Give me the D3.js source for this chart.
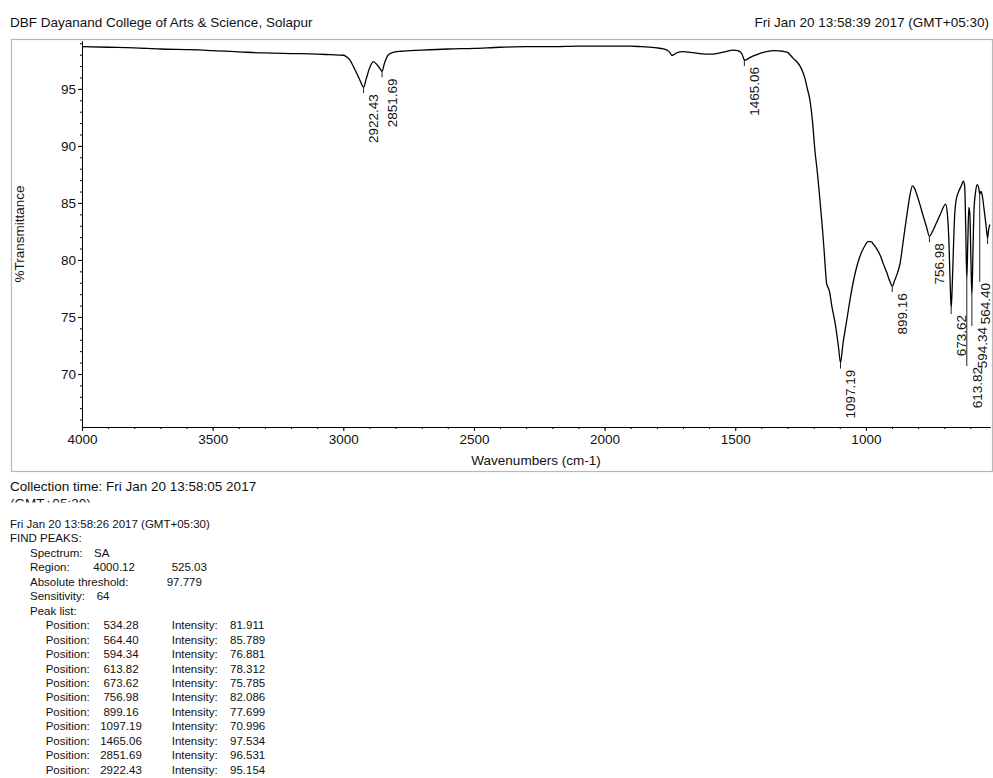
<!DOCTYPE html>
<html><head><meta charset="utf-8">
<script src="https://cdn.jsdelivr.net/npm/d3@7"></script>
<style>
body{margin:0;background:#fff}
svg{display:block}
text{font-family:"Liberation Sans",Arial,sans-serif;fill:#111}
</style>
</head><body>
<svg id="c" width="993" height="778"></svg>
<script>
// ---------- data ----------
const headerLeft = "DBF Dayanand College of Arts & Science, Solapur";
const headerRight = "Fri Jan 20 13:58:39 2017 (GMT+05:30)";
const xLabel = "Wavenumbers (cm-1)";
const yLabel = "%Transmittance";
const xTicks = [4000, 3500, 3000, 2500, 2000, 1500, 1000];
const yTicks = [95, 90, 85, 80, 75, 70];

const wavenumbers = [4000,3900,3800,3700,3600,3550,3500,3400,3300,3200,3100,3050,3000,2990,2975,2960,2945,2935,2922.43,2912,2900,2885,2870,2860,2851.69,2843,2829,2810,2780,2700,2600,2500,2400,2300,2200,2100,2000,1900,1860,1800,1775,1761,1750,1743,1735,1720,1700,1670,1635,1600,1571,1540,1508,1490,1475,1470,1465.06,1458,1451,1435,1418,1400,1380,1350,1317,1300,1290,1279,1265,1252,1240,1233,1225,1214,1205,1195,1185,1176,1168,1160,1155,1150,1145,1140,1130,1118,1105,1097.19,1088,1074,1060,1049,1035,1023,1005,992,980,970,959,945,934,920,908,899.16,890,880,870,855,844,832,822,814,806,795,780,768,756.98,745,729,715,704,695,688,682,677,673.62,670,665,660,655,645,635,627,622,618,613.82,610,606,602,598,594.34,590,586,580,574,568,564.40,560,555,548,540,534.28,530,525];
const transmittance = [98.7,98.65,98.6,98.5,98.45,98.42,98.35,98.25,98.15,98.1,98.05,98.0,97.95,97.85,97.55,96.9,96.2,95.7,95.154,95.9,96.8,97.4,97.1,96.8,96.531,97.2,97.95,98.2,98.3,98.4,98.5,98.55,98.65,98.7,98.7,98.75,98.75,98.75,98.7,98.6,98.5,98.4,98.2,97.95,98.0,98.2,98.27,98.2,98.1,98.05,98.1,98.25,98.4,98.35,98.1,97.8,97.534,97.55,97.65,97.85,98.0,98.15,98.27,98.35,98.3,98.2,98.0,97.7,97.4,97.0,96.4,95.9,95.1,94.0,92.3,89.6,87.5,85.3,83.2,80.9,79.2,77.9,77.6,77.3,75.9,74.5,72.4,70.996,72.6,74.6,76.6,78.0,79.4,80.3,81.2,81.6,81.6,81.35,81.0,80.4,79.7,78.9,78.1,77.699,78.2,78.8,79.6,82.0,83.8,85.6,86.5,86.3,85.8,85.0,83.8,82.9,82.086,82.5,83.3,84.0,84.6,84.9,84.0,81.5,77.6,75.785,77.4,81.0,84.0,85.2,86.0,86.5,86.9,86.5,83.0,78.312,81.5,84.6,84.0,80.0,76.881,81.0,84.5,86.0,86.6,86.3,85.789,86.0,85.7,84.5,83.0,81.911,82.7,83.1];

const peakPositions = [534.28, 564.40, 594.34, 613.82, 673.62, 756.98, 899.16, 1097.19, 1465.06, 2851.69, 2922.43];
const peakIntensities = [81.911, 85.789, 76.881, 78.312, 75.785, 82.086, 77.699, 70.996, 97.534, 96.531, 95.154];

const collectionLine = "Collection time: Fri Jan 20 13:58:05 2017";
const collectionTz = "(GMT+05:30)";
const reportStamp = "Fri Jan 20 13:58:26 2017 (GMT+05:30)";
const spectrumName = "SA";
const regionValues = ["4000.12", "525.03"];
const thresholdValue = "97.779";
const sensitivityValue = "64";

// ---------- drawing ----------
const svg = d3.select("#c");
const x = d3.scaleLinear().domain([4000, 525]).range([82, 990]);
const y = d3.scaleLinear().domain([65.35, 99.2]).range([427, 41]);

svg.append("text").attr("x", 10).attr("y", 27).attr("font-size", "13.5px").text(headerLeft);
svg.append("text").attr("x", 989).attr("y", 27).attr("text-anchor", "end").attr("font-size", "13.5px").text(headerRight);

svg.append("rect").attr("x", 11.5).attr("y", 39.5).attr("width", 981).attr("height", 432)
  .attr("fill", "none").attr("stroke", "#b8b8b8").attr("stroke-width", 1.2);

function styleAxis(g) {
  g.selectAll("path,line").attr("stroke", "#000");
  g.selectAll("text").attr("font-size", "13.5px").attr("fill", "#111")
    .attr("font-family", "Liberation Sans, Arial, sans-serif");
  g.attr("font-family", null).attr("font-size", null);
}

// minor x ticks
const xMinor = d3.range(4000, 525, -100);
svg.append("g").attr("transform", "translate(0,427)")
  .call(d3.axisBottom(x).tickValues(xMinor).tickSize(2).tickSizeOuter(0).tickFormat(""))
  .call(styleAxis);
svg.append("g").attr("transform", "translate(0,427)")
  .call(d3.axisBottom(x).tickValues(xTicks).tickSize(4).tickSizeOuter(0).tickPadding(3).tickFormat(d3.format("d")))
  .call(styleAxis);

const yMinor = d3.range(66, 100, 1);
svg.append("g").attr("transform", "translate(82,0)")
  .call(d3.axisLeft(y).tickValues(yMinor).tickSize(2).tickSizeOuter(0).tickFormat(""))
  .call(styleAxis);
svg.append("g").attr("transform", "translate(82,0)")
  .call(d3.axisLeft(y).tickValues(yTicks).tickSize(4).tickSizeOuter(0).tickPadding(2))
  .call(styleAxis);

svg.append("text").attr("x", 536).attr("y", 465).attr("text-anchor", "middle")
  .attr("font-size", "13.5px").text(xLabel);
svg.append("text").attr("transform", "translate(24,234) rotate(-90)").attr("text-anchor", "middle")
  .attr("font-size", "13.5px").text(yLabel);

// spectrum
const pts = wavenumbers.map((w, i) => [w, transmittance[i]]);
const line = d3.line().x(d => x(d[0])).y(d => y(d[1])).curve(d3.curveMonotoneX);
svg.append("path").datum(pts).attr("d", line).attr("fill", "none")
  .attr("stroke", "#000").attr("stroke-width", 1.3).attr("stroke-linejoin", "round");

// peak labels (label tops moved down where the instrument software shifted them)
const labelTop = { "613.82": 367, "594.34": 327, "564.40": 283 };
const rightLimit = 985; // rightmost label centre that still fits on the page
const pk = svg.append("g");
peakPositions.forEach((p, i) => {
  const key = p.toFixed(2);
  const px = x(p), py = y(peakIntensities[i]);
  const top = labelTop[key] !== undefined ? labelTop[key] : py + 7;
  pk.append("line").attr("x1", px).attr("x2", px).attr("y1", py).attr("y2", top - 1)
    .attr("stroke", "#222").attr("stroke-width", 1);
  if (px + 10 > 990) return; // label falls beyond the plot edge, as in the reference
  const lx = Math.min(px + 10, rightLimit);
  pk.append("text").attr("transform", `translate(${lx},${top}) rotate(-90)`)
    .attr("text-anchor", "end").attr("dy", "0.35em").attr("font-size", "13.5px").text(key);
});

// lower text block
svg.append("defs").append("clipPath").attr("id", "cut")
  .append("rect").attr("x", 0).attr("y", 470).attr("width", 400).attr("height", 32.5);
const ct = svg.append("g").attr("clip-path", "url(#cut)");
ct.append("text").attr("x", 10).attr("y", 491).attr("font-size", "13.5px").text(collectionLine);
ct.append("text").attr("x", 10).attr("y", 508).attr("font-size", "13.5px").text(collectionTz);

const fs = "11.5px";
const step = 14.45;
let yy = 528;
function t(xp, yp, s, anchor) {
  svg.append("text").attr("x", xp).attr("y", yp).attr("font-size", fs)
    .attr("text-anchor", anchor || "start").text(s);
}
t(10, yy, reportStamp); yy += step;
t(10, yy, "FIND PEAKS:"); yy += step;
t(30, yy, "Spectrum:"); t(94, yy, spectrumName); yy += step;
t(30, yy, "Region:"); t(93.3, yy, regionValues[0]); t(171.7, yy, regionValues[1]); yy += step;
t(30, yy, "Absolute threshold:"); t(166.7, yy, thresholdValue); yy += step;
t(30, yy, "Sensitivity:"); t(96.7, yy, sensitivityValue); yy += step;
t(30, yy, "Peak list:"); yy += step;
peakPositions.forEach((p, i) => {
  t(45.7, yy, "Position:");
  t(121, yy, p.toFixed(2), "middle");
  t(171.7, yy, "Intensity:");
  t(230, yy, peakIntensities[i].toFixed(3));
  yy += step;
});
</script>
</body></html>
